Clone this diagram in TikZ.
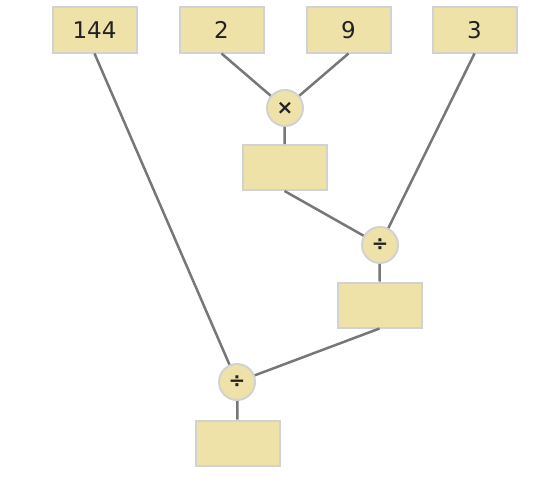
\documentclass[tikz,border=0pt]{standalone}
\usepackage{fontspec}
\setmainfont{DejaVu Sans}
\definecolor{boxfill}{HTML}{EEE2A8}
\definecolor{boxedge}{HTML}{D2D2D2}
\definecolor{wire}{HTML}{777777}
\definecolor{ink}{HTML}{222222}
\begin{document}
\begin{tikzpicture}[x=1pt,y=-1pt,
  numbox/.style={draw=boxedge,line width=2pt,fill=boxfill,minimum width=84pt,minimum height=45pt,inner sep=0pt,text=ink,font=\fontsize{23}{26}\selectfont},
  opnode/.style={circle,draw=boxedge,line width=2pt,fill=boxfill,minimum size=36pt,inner sep=0pt,text=ink,font=\fontsize{20}{22}\selectfont\bfseries},
  wireline/.style={draw=wire,line width=2.5pt}]
\useasboundingbox (0,0) rectangle (545,487);
\node[numbox] (n144) at (94.5,30) {144};
\node[numbox] (n2) at (221.5,30) {2};
\node[numbox] (n9) at (348.5,30) {9};
\node[numbox] (n3) at (474.5,30) {3};
\node[opnode] (mul) at (285,108) {×};
\node[numbox] (r1) at (284.5,167.5) {};
\node[opnode] (div1) at (380,245) {÷};
\node[numbox] (r2) at (379.5,305) {};
\node[opnode] (div2) at (237,382) {÷};
\node[numbox] (r3) at (237.5,443) {};
\draw[wireline] (n2.south) -- (mul);
\draw[wireline] (n9.south) -- (mul);
\draw[wireline] (mul) -- (r1.north);
\draw[wireline] (r1.south) -- (div1);
\draw[wireline] (n3.south) -- (div1);
\draw[wireline] (div1) -- (r2.north);
\draw[wireline] (r2.south) -- (div2);
\draw[wireline] (n144.south) -- (div2);
\draw[wireline] (div2) -- (r3.north);
\end{tikzpicture}
\end{document}
